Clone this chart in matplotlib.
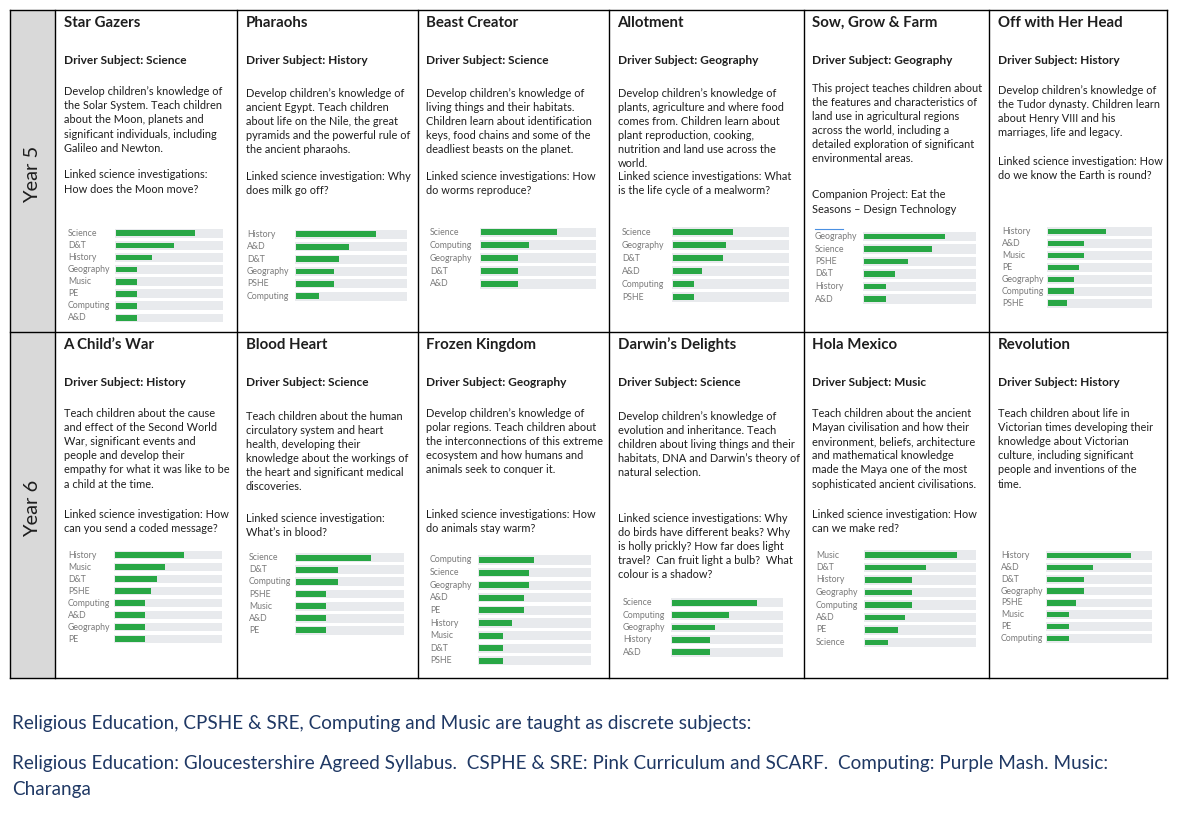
import matplotlib
matplotlib.use("Agg")
import matplotlib.pyplot as plt
from matplotlib.patches import Rectangle

# ---------------- DATA ----------------
year_labels = ["Year 5", "Year 6"]

y5_titles = ["Star Gazers", "Pharaohs", "Beast Creator", "Allotment", "Sow, Grow & Farm", "Off with Her Head"]
y6_titles = ["A Child’s War", "Blood Heart", "Frozen Kingdom", "Darwin’s Delights", "Hola Mexico", "Revolution"]

y5_drivers = ["Science", "History", "Science", "Geography", "Geography", "History"]
y6_drivers = ["History", "Science", "Geography", "Science", "Music", "History"]

y5_descriptions = [
    ["Develop children’s knowledge of", "the Solar System. Teach children", "about the Moon, planets and",
     "significant individuals, including", "Galileo and Newton."],
    ["Develop children’s knowledge of", "ancient Egypt. Teach children", "about life on the Nile, the great",
     "pyramids and the powerful rule of", "the ancient pharaohs."],
    ["Develop children’s knowledge of", "living things and their habitats.", "Children learn about identification",
     "keys, food chains and some of the", "deadliest beasts on the planet."],
    ["Develop children’s knowledge of", "plants, agriculture and where food", "comes from. Children learn about",
     "plant reproduction, cooking,", "nutrition and land use across the", "world."],
    ["This project teaches children about", "the features and characteristics of", "land use in agricultural regions",
     "across the world, including a", "detailed exploration of significant", "environmental areas."],
    ["Develop children’s knowledge of", "the Tudor dynasty. Children learn", "about Henry VIII and his",
     "marriages, life and legacy."],
]
y5_investigations = [
    ["Linked science investigations:", "How does the Moon move?"],
    ["Linked science investigation: Why", "does milk go off?"],
    ["Linked science investigations: How", "do worms reproduce?"],
    ["Linked science investigations: What", "is the life cycle of a mealworm?"],
    ["Companion Project: Eat the", "Seasons – Design Technology"],
    ["Linked science investigation: How", "do we know the Earth is round?"],
]
y6_descriptions = [
    ["Teach children about the cause", "and effect of the Second World", "War, significant events and",
     "people and develop their", "empathy for what it was like to be", "a child at the time."],
    ["Teach children about the human", "circulatory system and heart", "health, developing their",
     "knowledge about the workings of", "the heart and significant medical", "discoveries."],
    ["Develop children’s knowledge of", "polar regions. Teach children about", "the interconnections of this extreme",
     "ecosystem and how humans and", "animals seek to conquer it."],
    ["Develop children’s knowledge of", "evolution and inheritance. Teach", "children about living things and their",
     "habitats, DNA and Darwin’s theory of", "natural selection."],
    ["Teach children about the ancient", "Mayan civilisation and how their", "environment, beliefs, architecture",
     "and mathematical knowledge", "made the Maya one of the most", "sophisticated ancient civilisations."],
    ["Teach children about life in", "Victorian times developing their", "knowledge about Victorian",
     "culture, including significant", "people and inventions of the", "time."],
]
y6_investigations = [
    ["Linked science investigation: How", "can you send a coded message?"],
    ["Linked science investigation:", "What’s in blood?"],
    ["Linked science investigations: How", "do animals stay warm?"],
    ["Linked science investigations: Why", "do birds have different beaks? Why", "is holly prickly? How far does light",
     "travel?  Can fruit light a bulb?  What", "colour is a shadow?"],
    ["Linked science investigation: How", "can we make red?"],
    [],
]

# subject emphasis (% of full bar track)
star_gazers_subjects = ["Science", "D&T", "History", "Geography", "Music", "PE", "Computing", "A&D"]
star_gazers_values = [74, 54, 34, 20, 20, 20, 20, 20]
pharaohs_subjects = ["History", "A&D", "D&T", "Geography", "PSHE", "Computing"]
pharaohs_values = [72, 48, 39, 34, 34, 21]
beast_creator_subjects = ["Science", "Computing", "Geography", "D&T", "A&D"]
beast_creator_values = [66, 42, 32, 32, 32]
allotment_subjects = ["Science", "Geography", "D&T", "A&D", "Computing", "PSHE"]
allotment_values = [52, 46, 43, 25, 18, 18]
sow_grow_farm_subjects = ["Geography", "Science", "PSHE", "D&T", "History", "A&D"]
sow_grow_farm_values = [72, 61, 39, 28, 20, 20]
off_with_head_subjects = ["History", "A&D", "Music", "PE", "Geography", "Computing", "PSHE"]
off_with_head_values = [56, 35, 35, 30, 25, 25, 18]

childs_war_subjects = ["History", "Music", "D&T", "PSHE", "Computing", "A&D", "Geography", "PE"]
childs_war_values = [64, 47, 39, 34, 28, 28, 28, 28]
blood_heart_subjects = ["Science", "D&T", "Computing", "PSHE", "Music", "A&D", "PE"]
blood_heart_values = [69, 39, 39, 28, 28, 28, 28]
frozen_kingdom_subjects = ["Computing", "Science", "Geography", "A&D", "PE", "History", "Music", "D&T", "PSHE"]
frozen_kingdom_values = [49, 45, 45, 40, 40, 29, 21, 21, 21]
darwins_delights_subjects = ["Science", "Computing", "Geography", "History", "A&D"]
darwins_delights_values = [77, 51, 39, 34, 34]
hola_mexico_subjects = ["Music", "D&T", "History", "Geography", "Computing", "A&D", "PE", "Science"]
hola_mexico_values = [83, 55, 42, 42, 42, 36, 30, 21]
revolution_subjects = ["History", "A&D", "D&T", "Geography", "PSHE", "Music", "PE", "Computing"]
revolution_values = [80, 44, 35, 35, 28, 21, 21, 21]

footer_lines = [
    "Religious Education, CPSHE & SRE, Computing and Music are taught as discrete subjects:",
    "Religious Education: Gloucestershire Agreed Syllabus.  CSPHE & SRE: Pink Curriculum and SCARF.  Computing: Purple Mash. Music:",
    "Charanga",
]

# ---------------- LAYOUT / STYLE ----------------
W, H = 1184, 816
FONT = ["Lato", "DejaVu Sans"]
plt.rcParams["font.family"] = FONT

col_edges = [55, 237, 418, 609, 804, 989, 1167]
row_edges = [10, 332, 678]
TABLE_L = 10

TXT = "#1e1e1e"
GREEN = "#28a745"
TRACK = "#e8eaed"
LABEL = "#7a7a7a"
NAVY = "#1f3864"

fig = plt.figure(figsize=(W / 100, H / 100), dpi=100)
ax = fig.add_axes([0, 0, 1, 1])
ax.set_xlim(0, W)
ax.set_ylim(H, 0)
ax.axis("off")

# grey year column
ax.add_patch(Rectangle((TABLE_L, row_edges[0]), col_edges[0] - TABLE_L, row_edges[2] - row_edges[0],
                       facecolor="#d9d9d9", edgecolor="none", zorder=0))
# grid lines
for x in [TABLE_L] + col_edges:
    ax.plot([x, x], [row_edges[0], row_edges[2]], color="black", lw=1.0, solid_capstyle="projecting")
for y in row_edges:
    ax.plot([TABLE_L, col_edges[-1]], [y, y], color="black", lw=1.0, solid_capstyle="projecting")

# year labels
for r, lab in enumerate(year_labels):
    ax.text(33, (row_edges[r] + row_edges[r + 1]) / 2 + 3, lab, rotation=90, ha="center", va="center",
            fontsize=14.5, color=TXT)

LINE = 14.1
BODY = 7.95
row_title_y = [23, 345]
row_driver_y = [60, 382]
y5_p1_y = [91.7, 93.3, 93.3, 93.3, 88.3, 90]
y5_p2_y = [175, 176.7, 176.7, 176.7, 195, 161.7]
y6_p1_y = [413.5, 416.5, 413.5, 416.5, 413.5, 413.5]
y6_p2_y = [514.5, 518.5, 514.5, 518.5, 514.5, 514.5]

rows = [
    (y5_titles, y5_drivers, y5_descriptions, y5_investigations, y5_p1_y, y5_p2_y),
    (y6_titles, y6_drivers, y6_descriptions, y6_investigations, y6_p1_y, y6_p2_y),
]
for r, (titles, drivers, descs, invs, p1y, p2y) in enumerate(rows):
    for c in range(6):
        x0 = col_edges[c] + 8.5
        ax.text(x0, row_title_y[r], titles[c], fontsize=10.8, fontweight="bold", color=TXT, va="center", ha="left")
        ax.text(x0, row_driver_y[r], "Driver Subject: " + drivers[c], fontsize=8.6, fontweight="bold",
                color=TXT, va="center", ha="left")
        for i, line in enumerate(descs[c]):
            ax.text(x0, p1y[c] + i * LINE, line, fontsize=BODY, color=TXT, va="center", ha="left")
        for i, line in enumerate(invs[c]):
            ax.text(x0, p2y[c] + i * LINE, line, fontsize=BODY, color=TXT, va="center", ha="left")


def bar_chart(label_x, left, right, y_first, spacing, subjects, values):
    n = len(subjects)
    top = y_first - spacing / 2
    height = n * spacing
    cax = fig.add_axes([left / W, 1 - (top + height) / H, (right - left) / W, height / H])
    cax.set_xlim(-1, 100)
    cax.set_ylim(n - 0.5, -0.5)
    cax.axis("off")
    pos = list(range(n))
    cax.barh(pos, [101] * n, left=-1, height=0.74, color=TRACK, edgecolor="none")
    cax.barh(pos, values, left=0, height=0.47, color=GREEN, edgecolor="none")
    lx = (label_x - left) / (right - left)
    for i, s in enumerate(subjects):
        cax.text(lx, i, s, transform=cax.get_yaxis_transform(), ha="left", va="center",
                 fontsize=6.3, color=LABEL, clip_on=False)
    return cax


charts = [
    (68, 115, 223, 233.3, 12.1, star_gazers_subjects, star_gazers_values),
    (247, 295, 407, 234.3, 12.4, pharaohs_subjects, pharaohs_values),
    (430, 480, 596, 232.3, 12.9, beast_creator_subjects, beast_creator_values),
    (622, 672, 789, 232.3, 13.0, allotment_subjects, allotment_values),
    (815, 863, 976, 236.5, 12.5, sow_grow_farm_subjects, sow_grow_farm_values),
    (1002, 1047, 1152, 231.7, 11.9, off_with_head_subjects, off_with_head_values),
    (68, 114, 222, 555.0, 12.0, childs_war_subjects, childs_war_values),
    (249, 295, 404, 557.7, 12.1, blood_heart_subjects, blood_heart_values),
    (430, 478, 591, 560.0, 12.6, frozen_kingdom_subjects, frozen_kingdom_values),
    (623, 671, 783, 602.7, 12.4, darwins_delights_subjects, darwins_delights_values),
    (816, 864, 976, 555.0, 12.5, hola_mexico_subjects, hola_mexico_values),
    (1001, 1046, 1152, 555.7, 11.8, revolution_subjects, revolution_values),
]
for ch in charts:
    bar_chart(*ch)

# small blue rule above the Sow, Grow & Farm chart
ax.plot([815, 843], [229.3, 229.3], color="#4a90e2", lw=0.8)

# footer
footer_y = [723, 763, 790]
for y, line in zip(footer_y, footer_lines):
    ax.text(12, y, line, fontsize=13.6, color=NAVY, va="center", ha="left")

fig.savefig("out.png", dpi=100)
